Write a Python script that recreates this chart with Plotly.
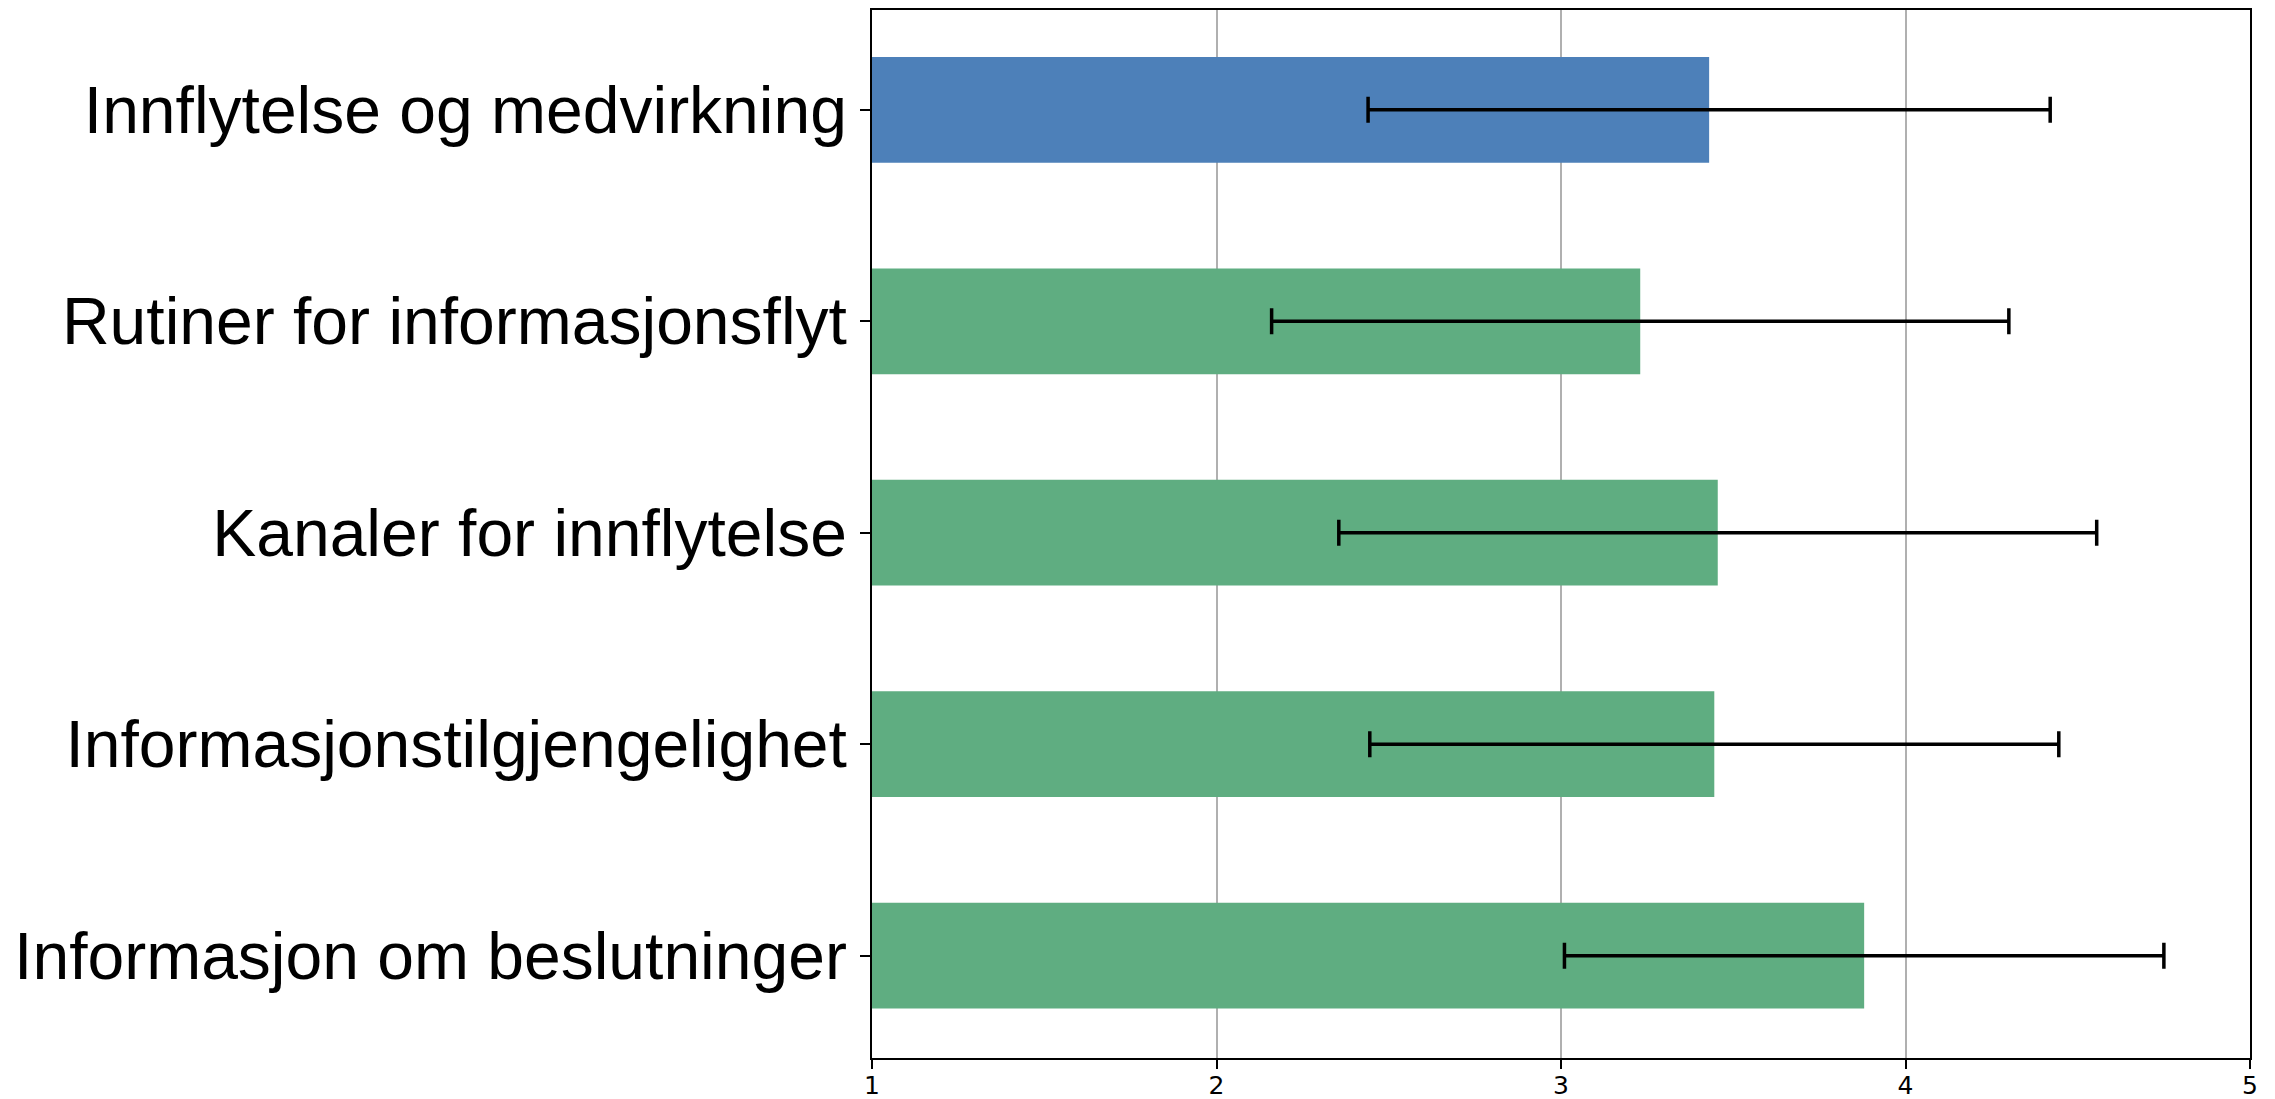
import plotly.graph_objects as go

# Survey dimensions, listed top to bottom
categories = [
    "Innflytelse og medvirkning",
    "Rutiner for informasjonsflyt",
    "Kanaler for innflytelse",
    "Informasjonstilgjengelighet",
    "Informasjon om beslutninger",
]
mean_scores = [3.43, 3.23, 3.455, 3.445, 3.88]
std_devs = [0.99, 1.07, 1.10, 1.00, 0.87]
x_ticks = [1, 2, 3, 4, 5]

BLUE = "#4d80b9"
GREEN = "#5fad81"
bar_colors = [BLUE] + [GREEN] * (len(categories) - 1)

fig = go.Figure(
    go.Bar(
        x=mean_scores,
        y=categories,
        orientation="h",
        base=0,
        width=0.5,
        marker=dict(color=bar_colors, line=dict(width=0)),
        error_x=dict(
            type="data",
            array=std_devs,
            symmetric=True,
            color="black",
            thickness=3.5,
            width=13,
        ),
        showlegend=False,
    )
)

fig.update_layout(
    width=2275,
    height=1099,
    margin=dict(l=872, r=25, t=10, b=41, pad=0, autoexpand=False),
    paper_bgcolor="white",
    plot_bgcolor="white",
    bargap=0.5,
)

fig.update_xaxes(
    range=[1, 5],
    tickvals=x_ticks,
    ticktext=[str(v) for v in x_ticks],
    tickfont=dict(family="DejaVu Sans", size=25, color="black"),
    ticks="outside",
    ticklen=9,
    tickwidth=1.5,
    tickcolor="black",
    ticklabelstandoff=-5,
    automargin=False,
    showgrid=True,
    gridcolor="#b0b0b0",
    gridwidth=1.5,
    showline=True,
    linecolor="black",
    linewidth=1.8,
    mirror=True,
    zeroline=False,
)

fig.update_yaxes(
    type="category",
    categoryorder="array",
    categoryarray=categories,
    range=[4.484, -0.472],
    tickfont=dict(family="Liberation Sans", size=66, color="black"),
    ticks="outside",
    ticklen=10,
    tickwidth=1.5,
    tickcolor="black",
    ticklabelstandoff=0,
    automargin=False,
    showgrid=False,
    showline=True,
    linecolor="black",
    linewidth=1.8,
    mirror=True,
    zeroline=False,
)

fig.write_html("out.html")
